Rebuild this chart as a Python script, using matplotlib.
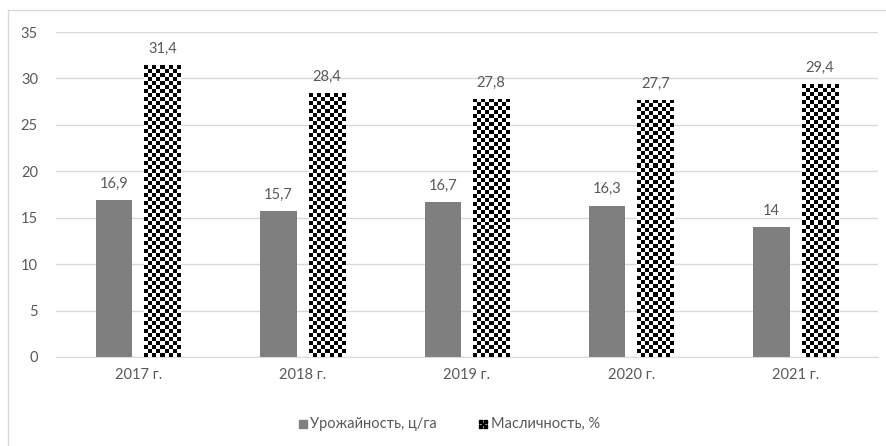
import numpy as np
import matplotlib.pyplot as plt
from matplotlib.patches import Rectangle

years = ['2017 г.', '2018 г.', '2019 г.', '2020 г.', '2021 г.']
yield_vals = [16.9, 15.7, 16.7, 16.3, 14]
oil_vals = [31.4, 28.4, 27.8, 27.7, 29.4]
yield_labels = ['16,9', '15,7', '16,7', '16,3', '14']
oil_labels = ['31,4', '28,4', '27,8', '27,7', '29,4']

plt.rcParams['font.family'] = ['Lato', 'DejaVu Sans']
txt = '#595959'

fig = plt.figure(figsize=(8.87, 4.46), dpi=100)
fig.patches.append(Rectangle((8 / 887, -0.1), 1.0, 1 - 10 / 446 + 0.1,
                             transform=fig.transFigure, fill=False,
                             edgecolor='#d9d9d9', lw=1))
ax = fig.add_axes([56 / 887, 89 / 446, 822 / 887, 325 / 446])

x = np.arange(len(years))
w = 0.222
off = 0.147
b1 = ax.bar(x - off, yield_vals, w, color='#7f7f7f', zorder=2)
b2 = ax.bar(x + off, oil_vals, w, color='white', zorder=2)

# checker pattern for the second series: an image clipped to each bar
for r in b2:
    x0, y0 = r.get_x(), r.get_y()
    h = r.get_height()
    ncol = 9
    nrow = int(round(h * 9.29 / 4))
    board = (np.indices((nrow, ncol)).sum(axis=0) % 2).astype(float)
    im = ax.imshow(board, cmap='gray', extent=(x0, x0 + r.get_width(), y0, y0 + h),
                   origin='upper', interpolation='nearest', aspect='auto',
                   zorder=3, vmin=0, vmax=1)
    im.set_clip_path(r)

for i in range(len(years)):
    ax.text(x[i] - off, yield_vals[i] + 1.0, yield_labels[i], ha='center',
            va='bottom', color=txt, fontsize=10.5)
    ax.text(x[i] + off, oil_vals[i] + 1.0, oil_labels[i], ha='center',
            va='bottom', color=txt, fontsize=10.5)

ax.set_xlim(-0.5, len(years) - 0.5)
ax.set_ylim(0, 35)
ax.set_yticks(range(0, 36, 5))
ax.set_xticks(x)
ax.set_xticklabels(years)
ax.yaxis.grid(True, color='#d9d9d9', lw=1, zorder=0)
ax.set_axisbelow(True)
for s in ['top', 'right', 'left']:
    ax.spines[s].set_visible(False)
ax.spines['bottom'].set_color('#d9d9d9')
ax.tick_params(length=0, colors=txt, labelsize=10.5)
ax.tick_params(axis='y', pad=13)
ax.tick_params(axis='x', pad=8)

# legend
fig.patches.append(Rectangle((299 / 887, (446 - 428) / 446), 8 / 887, 8 / 446,
                             transform=fig.transFigure, color='#7f7f7f'))
fig.text(310 / 887, (446 - 424) / 446, 'Урожайность, ц/га', color=txt,
         fontsize=10.5, va='center')
sq = 8 / 3
for i in range(3):
    for j in range(3):
        if (i + j) % 2 == 0:
            fig.patches.append(Rectangle(((479 + i * sq) / 887, (446 - 428 + j * sq) / 446),
                                         sq / 887, sq / 446, transform=fig.transFigure,
                                         color='black'))
fig.patches.append(Rectangle((479 / 887, (446 - 428) / 446), 8 / 887, 8 / 446,
                             transform=fig.transFigure, fill=False, edgecolor='black', lw=0.5))
fig.text(491 / 887, (446 - 424) / 446, 'Масличность, %', color=txt,
         fontsize=10.5, va='center')

fig.savefig('out.png', dpi=100)
